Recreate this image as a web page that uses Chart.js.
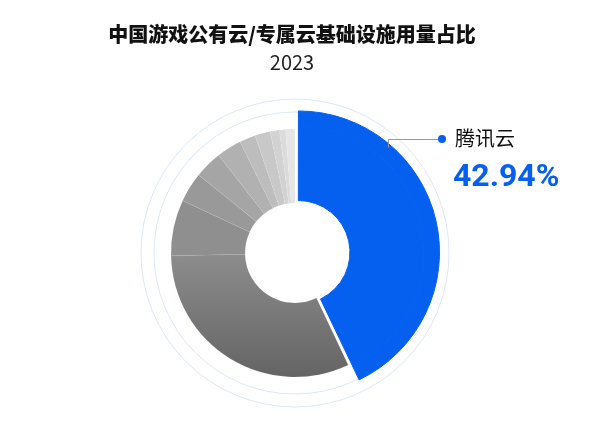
<!DOCTYPE html>
<html>
<head>
<meta charset="utf-8">
<script src="https://cdn.jsdelivr.net/npm/chart.js@4"></script>
<style>
  body { margin: 0; background: #fff; }
  #wrap { position: relative; width: 600px; height: 421px; }
  #pie { position: absolute; left: 0; top: 0; }
  .txt { position: absolute; white-space: nowrap; }
  #title { left: 0; width: 584px; top: 21px; text-align: center; font: 900 20px/26px "Noto Sans CJK SC", sans-serif; color: #111; }
  #year { left: 0; width: 584px; top: 49px; text-align: center; font: 20px/26px "Noto Sans CJK SC", sans-serif; color: #222; }
  #lbl-name { left: 455px; top: 124px; font: 20px/28px "Noto Sans CJK SC", sans-serif; color: #111; }
  #lbl-val { left: 453px; top: 156px; font: bold 32px/38px Roboto, sans-serif; color: #0560f0; }
</style>
</head>
<body>
<div id="wrap">
  <canvas id="pie" width="600" height="421"></canvas>
  <div class="txt" id="title">中国游戏公有云/专属云基础设施用量占比</div>
  <div class="txt" id="year">2023</div>
  <div class="txt" id="lbl-name"></div>
  <div class="txt" id="lbl-val"></div>
</div>
<script>
// shares in % (only the first one is labelled)
const vendors = ['腾讯云', '其他1', '其他2', '其他3', '其他4', '其他5', '其他6', '其他7', '其他8', '其他9', '其他10'];
const shares = [42.94, 31.7, 7.3, 3.9, 3.6, 3.25, 2.1, 2.0, 1.2, 0.8, 1.21];

const blue = '#0560f0';
const grays = ['#7b7b7b', '#8f8f8f', '#999999', '#a5a5a5', '#b1b1b1', '#bdbdbd', '#c8c8c8', '#d2d2d2', '#dbdbdb', '#e5e5e5'];

document.getElementById('lbl-name').textContent = vendors[0];
document.getElementById('lbl-val').textContent = shares[0].toFixed(2) + '%';

// big gray slice fades from light (top) to dark (bottom)
const grayFill = (c) => {
  const i = c.dataIndex;
  if (i === 0) return blue;
  const { ctx, chartArea } = c.chart;
  if (i !== 1 || !chartArea) return grays[i - 1];
  const cy = (chartArea.top + chartArea.bottom) / 2;
  const g = ctx.createLinearGradient(0, cy - 4, 0, cy + 125);
  g.addColorStop(0, '#8e8e8e');
  g.addColorStop(1, '#646464');
  return g;
};

// thin light rings behind the doughnut
const rings = {
  id: 'rings',
  beforeDatasetsDraw(chart) {
    const arc = chart.getDatasetMeta(1).data[0];
    const ctx = chart.ctx;
    ctx.save();
    ctx.strokeStyle = '#dde8f4';
    ctx.lineWidth = 1;
    [141, 154].forEach((r) => {
      ctx.beginPath();
      ctx.arc(arc.x, arc.y, r, 0, Math.PI * 2);
      ctx.stroke();
    });
    ctx.restore();
  },
};

// leader line + dot for the labelled slice
const leader = {
  id: 'leader',
  afterDatasetsDraw(chart) {
    const arc = chart.getDatasetMeta(0).data[0];
    const ctx = chart.ctx;
    const dot = { x: 442, y: 139 };
    const lx = 388;
    const r = arc.outerRadius + 1;
    const ly = arc.y - Math.sqrt(r * r - (lx - arc.x) * (lx - arc.x));
    ctx.save();
    ctx.strokeStyle = '#9a9a9a';
    ctx.lineWidth = 1;
    ctx.beginPath();
    ctx.moveTo(lx + 0.5, ly);
    ctx.lineTo(lx + 0.5, dot.y + 0.5);
    ctx.lineTo(dot.x, dot.y + 0.5);
    ctx.stroke();
    ctx.fillStyle = blue;
    ctx.beginPath();
    ctx.arc(dot.x, dot.y, 4, 0, Math.PI * 2);
    ctx.fill();
    ctx.restore();
  },
};

const pieChart = new Chart(document.getElementById('pie'), {
  type: 'doughnut',
  data: {
    labels: vendors,
    datasets: [
      {
        // outer band: only the leader slice reaches out here
        data: shares,
        backgroundColor: shares.map((v, i) => (i === 0 ? blue : 'rgba(0,0,0,0)')),
        borderColor: shares.map((v, i) => (i === 0 ? blue : 'rgba(0,0,0,0)')),
        borderWidth: shares.map((v, i) => (i === 0 ? 1 : 0)),
        offset: shares.map((v, i) => (i === 0 ? 13 : 0)),
        weight: 15.5,
      },
      {
        data: shares,
        backgroundColor: grayFill,
        borderColor: shares.map((v, i) => (i === 0 ? blue : 'rgba(255,255,255,0.12)')),
        borderWidth: shares.map((v, i) => (i === 0 ? 1 : 0.5)),
        offset: shares.map((v, i) => (i === 0 ? 13 : 0)),
        weight: 74,
      },
    ],
  },
  options: {
    responsive: false,
    animation: false,
    events: [],
    radius: 139.5,
    cutout: '35.8%',
    layout: { padding: { left: 0, right: 10, top: 95, bottom: 10 } },
    plugins: {
      legend: { display: false },
      tooltip: { enabled: false },
    },
  },
  plugins: [rings, leader],
});
</script>
</body>
</html>
